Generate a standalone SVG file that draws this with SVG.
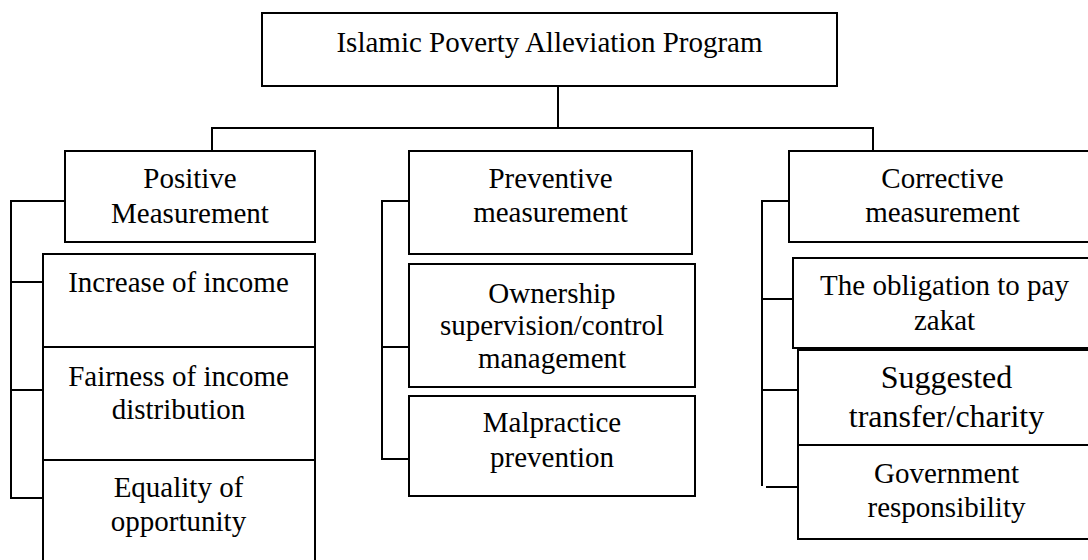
<svg xmlns="http://www.w3.org/2000/svg" width="1088" height="560" viewBox="0 0 1088 560">
  <style>
    rect { fill: #ffffff; stroke: #000000; stroke-width: 2; }
    .c { fill: none; stroke: #000000; stroke-width: 2; }
    text { font-family: "Liberation Serif", "Times New Roman", serif; font-size: 29px; fill: #000000; text-anchor: middle; }
    .big { font-size: 32px; }
  </style>
  <rect x="0" y="0" width="1088" height="560" style="fill:#ffffff;stroke:none"/>
  <g id="connectors">
    <path class="c" d="M558 86 V128 M212 151 V128 H873 V151"/>
    <path class="c" d="M65 201 H11 V498 H43 M11 282 H43 M11 390 H43"/>
    <path class="c" d="M409 201 H382 V459 H409 M382 347 H409"/>
    <path class="c" d="M789 201 H762 V486 M762 299 H793 M762 390 H798 M766 487 H798"/>
  </g>
  <g id="root">
    <rect x="262" y="13" width="575" height="73"/>
    <text x="549.5" y="52">Islamic Poverty Alleviation Program</text>
  </g>
  <g id="positive">
    <rect x="65" y="151" width="250" height="91"/>
    <text x="190" y="188">Positive</text>
    <text x="190" y="223">Measurement</text>
  </g>
  <g id="preventive">
    <rect x="409" y="151" width="283" height="103"/>
    <text x="550.5" y="188">Preventive</text>
    <text x="550.5" y="222">measurement</text>
  </g>
  <g id="corrective">
    <rect x="789" y="151" width="310" height="91"/>
    <text x="942.5" y="188">Corrective</text>
    <text x="942.5" y="222">measurement</text>
  </g>
  <g id="increase">
    <rect x="43" y="254" width="272" height="93"/>
    <text x="178.5" y="292">Increase of income</text>
  </g>
  <g id="fairness">
    <rect x="43" y="347" width="272" height="113"/>
    <text x="178.5" y="386">Fairness of income</text>
    <text x="178.5" y="419">distribution</text>
  </g>
  <g id="equality">
    <rect x="43" y="460" width="272" height="115"/>
    <text x="178.5" y="497">Equality of</text>
    <text x="178.5" y="531">opportunity</text>
  </g>
  <g id="ownership">
    <rect x="409" y="264" width="286" height="123"/>
    <text x="552" y="303">Ownership</text>
    <text x="552" y="335">supervision/control</text>
    <text x="552" y="368">management</text>
  </g>
  <g id="malpractice">
    <rect x="409" y="396" width="286" height="100"/>
    <text x="552" y="432">Malpractice</text>
    <text x="552" y="467">prevention</text>
  </g>
  <g id="obligation">
    <rect x="793" y="258" width="310" height="90"/>
    <text x="944.5" y="295">The obligation to pay</text>
    <text x="944.5" y="330">zakat</text>
  </g>
  <g id="suggested">
    <rect x="798" y="350" width="305" height="95"/>
    <text class="big" x="946.5" y="388">Suggested</text>
    <text class="big" x="946.5" y="427">transfer/charity</text>
  </g>
  <g id="government">
    <rect x="798" y="445" width="305" height="94"/>
    <text x="946.5" y="483">Government</text>
    <text x="946.5" y="517">responsibility</text>
  </g>
</svg>
